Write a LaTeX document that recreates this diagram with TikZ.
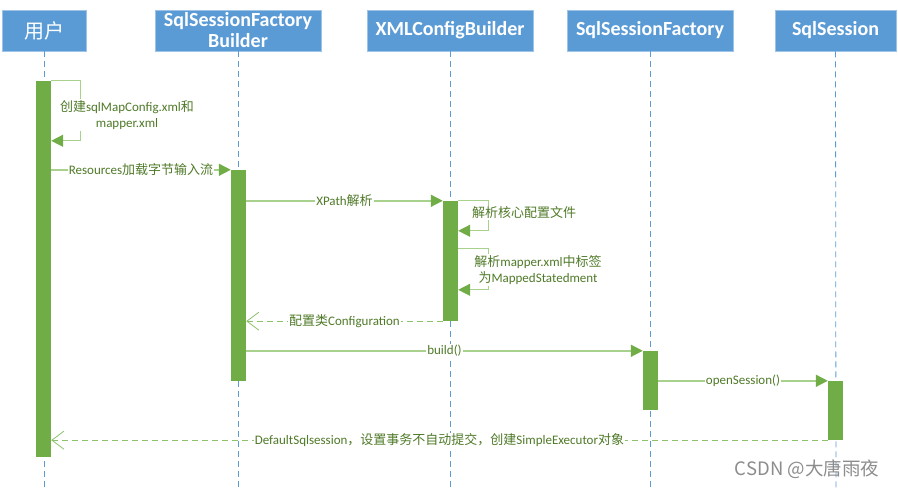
\documentclass[tikz,border=0pt]{standalone}
\usepackage{fontspec}
\setmainfont{Carlito}
\newfontfamily\cjk{Noto Sans CJK SC}
\usetikzlibrary{arrows.meta,calc}
\definecolor{hbl}{HTML}{5B9BD5}
\definecolor{hbd}{HTML}{9DC3E6}
\definecolor{gbar}{HTML}{70AD47}
\definecolor{gline}{HTML}{A9D18E}
\definecolor{gtxt}{HTML}{4F7A28}
\definecolor{gret}{HTML}{8CC26A}
\newcommand{\zh}[1]{{\cjk #1}}
\tikzset{
  head/.style={rectangle, fill=hbl, draw=hbd, line width=0.6pt, text=white,
    font=\fontsize{20}{23}\selectfont\bfseries, minimum height=41pt, inner sep=0pt, align=center},
  life/.style={draw=hbl, line width=0.8pt, dash pattern=on 6pt off 4pt},
  actbar/.style={rectangle, fill=gbar, draw=none, minimum width=15pt, inner sep=0pt},
  msg/.style={draw=gline, line width=1.6pt, -{Triangle[length=12pt,width=12pt,color=gbar]}},
  selfmsg/.style={draw=gline, line width=1.4pt, -{Triangle[length=12pt,width=12pt,color=gbar]}},
  ret/.style={draw=gret, line width=0.9pt, dash pattern=on 6pt off 4pt, -{Straight Barb[length=12pt,width=18pt,line width=0.8pt]}},
  lbl/.style={fill=white, text=gtxt, font=\fontsize{13}{16}\selectfont, inner sep=1pt, align=center},
}
\begin{document}
\begin{tikzpicture}[x=1pt,y=-1pt]
\useasboundingbox (0,0) rectangle (898,489);
% headers
\node[head, minimum width=84pt, font=\cjk\fontsize{20}{23}\selectfont] (hu) at (44,30.5) {用户};
\node[head, minimum width=166pt, font=\fontsize{20}{22}\selectfont\bfseries] (hb) at (238,30.5) {SqlSessionFactory\\[-1pt]Builder};
\node[head, minimum width=166pt] (hx) at (450,30.5) {XMLConfigBuilder};
\node[head, minimum width=166pt] (hf) at (650,30.5) {SqlSessionFactory};
\node[head, minimum width=121pt] (hs) at (835.5,30.5) {SqlSession};
% lifeline ends
\coordinate (eu) at (44,489);
\coordinate (eb) at (238,489);
\coordinate (ex) at (450,489);
\coordinate (ef) at (650,489);
\coordinate (es) at (836,489);
\draw[life] (hu.south) -- (eu);
\draw[life] (hb.south) -- (eb);
\draw[life] (hx.south) -- (ex);
\draw[life] (hf.south) -- (ef);
\draw[life] (hs.south) -- (es);
% activation bars
\node[actbar, minimum height=376pt] (bu) at (43.5,269) {};
\node[actbar, minimum height=211pt] (bb) at (238.5,275.5) {};
\node[actbar, minimum height=120pt] (bx) at (450.5,261) {};
\node[actbar, minimum height=59pt] (bf) at (650.5,380.5) {};
\node[actbar, minimum height=59pt] (bs) at (835.5,410.5) {};
% self message on user
\coordinate (u1) at ($(bu.north east)+(29,0)$);
\coordinate (u2) at ($(bu.north east)+(0,60)$);
\draw[selfmsg] (bu.north east) -- (u1) |- (u2);
\node[lbl] (lu) at (127,115) {\zh{创建}sqlMapConfig.xml\zh{和}\\mapper.xml};
% Resources
\draw[msg] (bu.east |- bb.north west) -- node[lbl] (l1) {Resources\zh{加载字节输入流}} (bb.north west);
% XPath
\draw[msg] (bb.east |- bx.north west) -- node[lbl] (l2) {XPath\zh{解析}} (bx.north west);
% self messages on XMLConfigBuilder
\coordinate (x1) at ($(bx.north east)+(30,0)$);
\coordinate (x2) at ($(bx.north east)+(0,30)$);
\draw[selfmsg] (bx.north east) -- (x1) |- (x2);
\node[lbl] (l3) at (524,213) {\zh{解析核心配置文件}};
\coordinate (x3) at ($(bx.north east)+(0,48)$);
\coordinate (x4) at ($(bx.north east)+(30,48)$);
\coordinate (x5) at ($(bx.north east)+(0,89)$);
\draw[selfmsg] (x3) -- (x4) |- (x5);
\node[lbl] (l4) at (538,270) {\zh{解析}mapper.xml\zh{中标签}\\\zh{为}MappedStatedment};
% return configuration
\draw[ret] (bx.south west) -- node[lbl] (l5) {\zh{配置类}Configuration} (bb.east |- bx.south west);
% build
\draw[msg] (bb.east |- bf.north west) -- node[lbl] (l6) {build()} (bf.north west);
% openSession
\draw[msg] (bf.east |- bs.north west) -- node[lbl] (l7) {openSession()} (bs.north west);
% return DefaultSqlsession
\draw[ret] (bs.south west) -- node[lbl] (l8) {DefaultSqlsession\zh{，设置事务不自动提交，创建}SimpleExecutor\zh{对象}} (bu.east |- bs.south west);
% watermark
\node[text=black!45, font=\cjk\fontsize{18.5}{21}\selectfont, anchor=center] (wm) at (807,469) {CSDN @大唐雨夜};
\end{tikzpicture}
\end{document}
